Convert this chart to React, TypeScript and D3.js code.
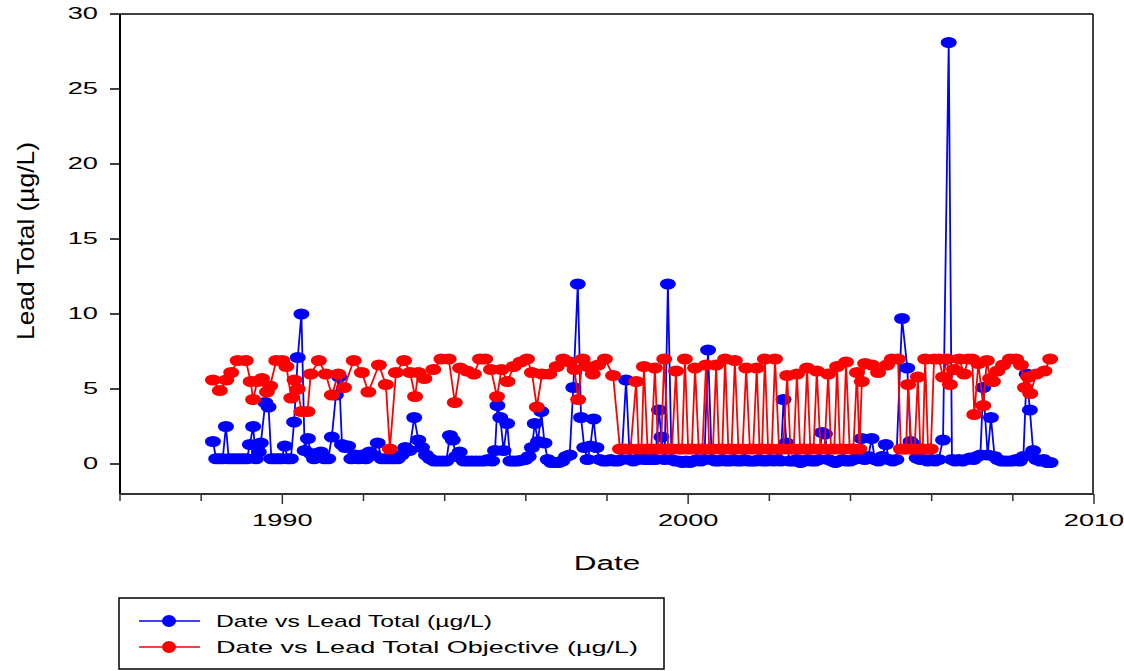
import React from "react";
import * as d3 from "d3";

// ---------- data ----------
const leadDates = [
  1988.29, 1988.37, 1988.45, 1988.53, 1988.61, 1988.68, 1988.77, 1988.86, 1988.95, 1989.04,
  1989.13, 1989.20, 1989.28, 1989.35, 1989.42, 1989.47, 1989.58, 1989.66, 1989.73, 1989.81,
  1989.90, 1989.98, 1990.06, 1990.13, 1990.21, 1990.29, 1990.38, 1990.47, 1990.55, 1990.63,
  1990.70, 1990.78, 1990.86, 1990.95, 1991.04, 1991.13, 1991.22, 1991.32, 1991.40, 1991.47,
  1991.55, 1991.62, 1991.70, 1991.79, 1991.88, 1991.97, 1992.06, 1992.15, 1992.24, 1992.35,
  1992.45, 1992.55, 1992.65, 1992.74, 1992.84, 1992.94, 1993.03, 1993.13, 1993.25, 1993.35,
  1993.44, 1993.54, 1993.64, 1993.74, 1993.84, 1993.94, 1994.04, 1994.13, 1994.20, 1994.28,
  1994.37, 1994.47, 1994.57, 1994.67, 1994.77, 1994.87, 1994.97, 1995.07, 1995.17, 1995.24,
  1995.30, 1995.37, 1995.45, 1995.54, 1995.62, 1995.71, 1995.80, 1995.89, 1995.98, 1996.07,
  1996.15, 1996.22, 1996.30, 1996.38, 1996.46, 1996.54, 1996.63, 1996.72, 1996.81, 1996.90,
  1996.99, 1997.08, 1997.17, 1997.28, 1997.36, 1997.44, 1997.52, 1997.59, 1997.67, 1997.74,
  1997.82, 1997.91, 1998.00, 1998.09, 1998.18, 1998.27, 1998.36, 1998.47, 1998.56, 1998.65,
  1998.74, 1998.83, 1998.92, 1999.01, 1999.10, 1999.19, 1999.28, 1999.34, 1999.42, 1999.50,
  1999.59, 1999.68, 1999.77, 1999.86, 1999.95, 2000.04, 2000.13, 2000.22, 2000.31, 2000.40,
  2000.49, 2000.58, 2000.67, 2000.76, 2000.85, 2000.94, 2001.03, 2001.12, 2001.21, 2001.30,
  2001.39, 2001.48, 2001.57, 2001.66, 2001.75, 2001.84, 2001.93, 2002.02, 2002.11, 2002.20,
  2002.28, 2002.35, 2002.42, 2002.50, 2002.59, 2002.68, 2002.77, 2002.86, 2002.95, 2003.04,
  2003.13, 2003.22, 2003.30, 2003.37, 2003.45, 2003.54, 2003.63, 2003.72, 2003.81, 2003.90,
  2003.99, 2004.08, 2004.17, 2004.27, 2004.35, 2004.44, 2004.52, 2004.60, 2004.69, 2004.78,
  2004.87, 2004.95, 2005.04, 2005.13, 2005.27, 2005.40, 2005.48, 2005.55, 2005.63, 2005.72,
  2005.81, 2005.90, 2005.99, 2006.08, 2006.17, 2006.28, 2006.42, 2006.50, 2006.58, 2006.67,
  2006.76, 2006.85, 2006.94, 2007.03, 2007.12, 2007.20, 2007.27, 2007.38, 2007.46, 2007.55,
  2007.63, 2007.72, 2007.81, 2007.90, 2007.99, 2008.08, 2008.17, 2008.26, 2008.34, 2008.42,
  2008.50, 2008.58, 2008.67, 2008.76, 2008.85, 2008.93,
];
const leadValues = [
  1.5, 0.35, 0.35, 0.35, 2.5, 0.35, 0.35, 0.35, 0.35, 0.35,
  0.35, 1.3, 2.5, 0.35, 0.8, 1.4, 4.1, 3.8, 0.35, 0.35,
  0.35, 0.35, 1.2, 0.35, 0.35, 2.8, 7.1, 10.0, 0.9, 1.7,
  0.7, 0.35, 0.7, 0.8, 0.35, 0.35, 1.8, 4.6, 5.8, 1.3,
  1.1, 1.2, 0.35, 0.6, 0.35, 0.6, 0.35, 0.8, 0.6, 1.4,
  0.35, 0.35, 0.35, 0.35, 0.35, 0.6, 1.1, 0.9, 3.1, 1.6,
  1.1, 0.6, 0.35, 0.2, 0.2, 0.2, 0.2, 1.9, 1.6, 0.5,
  0.8, 0.2, 0.2, 0.2, 0.2, 0.2, 0.2, 0.3, 0.2, 0.9,
  3.9, 3.1, 0.9, 2.7, 0.2, 0.2, 0.2, 0.25, 0.3, 0.5,
  1.1, 2.7, 1.5, 3.5, 1.4, 0.3, 0.1, 0.1, 0.1, 0.2,
  0.5, 0.6, 5.1, 12.0, 3.1, 1.1, 0.3, 1.2, 3.0, 1.1,
  0.3, 0.2, 0.2, 0.3, 0.2, 0.2, 0.3, 5.6, 0.3, 0.2,
  0.3, 0.4, 0.3, 0.3, 0.3, 0.3, 3.6, 1.8, 0.3, 12.0,
  0.3, 0.2, 0.2, 0.1, 0.2, 0.1, 0.2, 0.3, 0.2, 0.3,
  7.6, 0.3, 0.2, 0.2, 0.3, 0.2, 0.2, 0.3, 0.2, 0.2,
  0.3, 0.2, 0.2, 0.2, 0.3, 0.2, 0.2, 0.3, 0.2, 0.3,
  0.2, 4.3, 1.4, 0.2, 0.2, 0.3, 0.1, 0.2, 0.3, 0.2,
  0.2, 0.3, 2.1, 2.0, 0.3, 0.2, 0.1, 0.2, 0.3, 0.2,
  0.2, 0.3, 0.4, 1.7, 0.3, 0.5, 1.7, 0.3, 0.2, 0.5,
  1.3, 0.3, 0.2, 0.3, 9.7, 6.4, 1.5, 1.3, 0.4, 0.3,
  0.3, 0.2, 0.3, 0.2, 0.3, 1.6, 28.1, 0.3, 0.2, 0.3,
  0.2, 0.3, 0.4, 0.3, 0.5, 0.6, 5.1, 0.6, 3.1, 0.5,
  0.3, 0.2, 0.2, 0.2, 0.2, 0.3, 0.2, 0.5, 6.0, 3.6,
  0.9, 0.3, 0.2, 0.3, 0.1, 0.1,
];

const objectiveDates = [
  1988.29, 1988.46, 1988.62, 1988.74, 1988.90, 1989.10, 1989.22, 1989.28, 1989.38, 1989.50,
  1989.62, 1989.70, 1989.85, 1990.00, 1990.10, 1990.22, 1990.30, 1990.38, 1990.47, 1990.62,
  1990.70, 1990.90, 1991.07, 1991.22, 1991.38, 1991.52, 1991.76, 1991.96, 1992.12, 1992.38,
  1992.55, 1992.65, 1992.80, 1993.00, 1993.15, 1993.27, 1993.35, 1993.50, 1993.72, 1993.92,
  1994.10, 1994.25, 1994.38, 1994.55, 1994.72, 1994.87, 1995.00, 1995.14, 1995.29, 1995.40,
  1995.55, 1995.70, 1995.87, 1996.03, 1996.15, 1996.27, 1996.40, 1996.58, 1996.76, 1996.92,
  1997.08, 1997.20, 1997.29, 1997.40, 1997.53, 1997.65, 1997.78, 1997.95, 1998.15, 1998.32,
  1998.45, 1998.58, 1998.72, 1998.78, 1998.85, 1998.91, 1999.00, 1999.09, 1999.18, 1999.26,
  1999.33, 1999.41, 1999.51, 1999.60, 1999.70, 1999.77, 1999.85, 1999.92, 2000.00, 2000.09,
  2000.17, 2000.26, 2000.35, 2000.44, 2000.52, 2000.61, 2000.69, 2000.76, 2000.84, 2000.91,
  2000.99, 2001.07, 2001.15, 2001.24, 2001.34, 2001.43, 2001.52, 2001.60, 2001.69, 2001.76,
  2001.82, 2001.89, 2001.97, 2002.06, 2002.14, 2002.24, 2002.34, 2002.44, 2002.52, 2002.60,
  2002.68, 2002.76, 2002.85, 2002.93, 2003.01, 2003.09, 2003.17, 2003.26, 2003.36, 2003.45,
  2003.52, 2003.60, 2003.67, 2003.74, 2003.82, 2003.89, 2003.98, 2004.07, 2004.16, 2004.22,
  2004.28, 2004.36, 2004.53, 2004.68, 2004.90, 2005.02, 2005.17, 2005.24, 2005.31, 2005.37,
  2005.42, 2005.50, 2005.58, 2005.66, 2005.72, 2005.78, 2005.84, 2005.91, 2005.98, 2006.06,
  2006.18, 2006.28, 2006.38, 2006.45, 2006.55, 2006.68, 2006.80, 2006.90, 2007.00, 2007.05,
  2007.15, 2007.27, 2007.36, 2007.44, 2007.51, 2007.62, 2007.76, 2007.93, 2008.08, 2008.20,
  2008.30, 2008.38, 2008.43, 2008.58, 2008.78, 2008.92,
];
const objectiveValues = [
  5.6, 4.9, 5.6, 6.1, 6.9, 6.9, 5.5, 4.3, 5.5, 5.7,
  4.8, 5.2, 6.9, 6.9, 6.5, 4.4, 5.6, 5.0, 3.5, 3.5,
  6.0, 6.9, 6.0, 4.6, 6.0, 5.1, 6.9, 6.1, 4.8, 6.6,
  5.3, 1.0, 6.1, 6.9, 6.1, 4.5, 6.1, 5.7, 6.3, 7.0,
  7.0, 4.1, 6.4, 6.2, 6.0, 7.0, 7.0, 6.3, 4.5, 6.3,
  5.5, 6.5, 6.8, 7.0, 6.1, 3.8, 6.0, 6.0, 6.5, 7.0,
  6.8, 6.3, 4.3, 7.0, 6.5, 6.0, 6.6, 7.0, 5.9, 1.0,
  1.0, 1.0, 5.5, 1.0, 1.0, 6.5, 1.0, 1.0, 6.4, 1.0,
  1.0, 7.0, 1.0, 1.0, 6.2, 1.0, 1.0, 7.0, 1.0, 1.0,
  6.4, 1.0, 1.0, 6.6, 1.0, 1.0, 6.6, 1.0, 1.0, 7.0,
  1.0, 1.0, 6.9, 1.0, 1.0, 6.4, 1.0, 1.0, 6.4, 1.0,
  1.0, 7.0, 1.0, 1.0, 7.0, 1.0, 1.0, 5.9, 1.0, 1.0,
  6.0, 1.0, 1.0, 6.4, 1.0, 1.0, 6.2, 1.0, 1.0, 6.0,
  1.0, 1.0, 6.5, 1.0, 1.0, 6.8, 1.0, 1.0, 6.1, 1.0,
  5.5, 6.7, 6.6, 6.1, 6.6, 7.0, 7.0, 1.0, 1.0, 1.0,
  5.3, 1.0, 1.0, 5.8, 1.0, 1.0, 7.0, 1.0, 1.0, 7.0,
  7.0, 5.8, 7.0, 5.3, 6.3, 7.0, 6.0, 7.0, 7.0, 3.3,
  6.7, 3.9, 6.9, 5.7, 5.5, 6.2, 6.6, 7.0, 7.0, 6.6,
  5.1, 5.8, 4.7, 6.0, 6.2, 7.0,
];

const xTickValues = [1986, 1988, 1990, 1992, 1994, 1996, 1998, 2000, 2002, 2004, 2006, 2008, 2010];
const xTickLabels = [1990, 2000, 2010];
const yTickValues = [0, 5, 10, 15, 20, 25, 30];

const seriesNames = ["Date vs Lead Total (µg/L)", "Date vs Lead Total Objective (µg/L)"];
const seriesColors = ["#0000ff", "#ff0000"];

// ---------- layout ----------
const W = 1124;
const H = 671;
const LEFT = 120;
const RIGHT = 1094;
const TOP = 14;
const BOTTOM = 494;
const FONT = "'Liberation Sans', Arial, sans-serif";
const legendTextLengths = [276, 422];

export default function App() {
  const x = d3.scaleLinear().domain([1986, 2010]).range([LEFT, RIGHT]);
  const y = d3.scaleLinear().domain([-2, 30]).range([BOTTOM, TOP]);

  const lead = leadDates.map((d, i) => ({ d, v: leadValues[i] }));
  const obj = objectiveDates.map((d, i) => ({ d, v: objectiveValues[i] }));

  const line = d3
    .line<{ d: number; v: number }>()
    .x((p) => x(p.d))
    .y((p) => y(p.v));

  const series = [lead, obj];
  const axisColor = "#000";
  const tickLabelStretch = 1.7;
  const textStretch = 1.5;

  return (
    <svg
      width={W}
      height={H}
      style={{ position: "absolute", left: 0, top: 0, background: "#fff" }}
      fontFamily={FONT}
    >
      <rect x={0} y={0} width={W} height={H} fill="#fff" />

      {/* series */}
      {series.map((s, si) => (
        <g key={si}>
          <path d={line(s) || ""} fill="none" stroke={seriesColors[si]} strokeWidth={1.8} />
          {s.map((p, i) => (
            <ellipse key={i} cx={x(p.d)} cy={y(p.v)} rx={8} ry={5.5} fill={seriesColors[si]} />
          ))}
        </g>
      ))}

      {/* frame */}
      <line x1={LEFT} x2={RIGHT - 1} y1={TOP} y2={TOP} stroke={axisColor} strokeWidth={1.5} />
      <line x1={RIGHT - 1} x2={RIGHT - 1} y1={TOP} y2={BOTTOM} stroke={axisColor} strokeWidth={1.5} />
      <line x1={LEFT} x2={LEFT} y1={TOP} y2={BOTTOM} stroke={axisColor} strokeWidth={2} />
      <line x1={LEFT} x2={RIGHT} y1={BOTTOM} y2={BOTTOM} stroke="#333" strokeWidth={2} />

      {/* y axis ticks */}
      {yTickValues.map((t) => (
        <g key={t}>
          <line x1={LEFT - 10} x2={LEFT} y1={y(t)} y2={y(t)} stroke={axisColor} strokeWidth={1.5} />
          <text
            transform={`translate(${LEFT - 22},${y(t)}) scale(${tickLabelStretch},1)`}
            textAnchor="end"
            dominantBaseline="central"
            fontSize={16}
          >
            {t}
          </text>
        </g>
      ))}

      {/* x axis ticks */}
      {xTickValues.map((t) => (
        <line
          key={t}
          x1={x(t)}
          x2={x(t)}
          y1={BOTTOM}
          y2={BOTTOM + (xTickLabels.includes(t) ? 10 : 7)}
          stroke="#333"
          strokeWidth={1.5}
        />
      ))}
      {xTickLabels.map((t) => (
        <text
          key={t}
          transform={`translate(${x(t)},${BOTTOM + 27}) scale(${tickLabelStretch},1)`}
          textAnchor="middle"
          dominantBaseline="central"
          fontSize={16}
        >
          {t}
        </text>
      ))}

      {/* axis titles */}
      <text
        transform={`translate(${(LEFT + RIGHT) / 2},${563}) scale(${textStretch},1)`}
        textAnchor="middle"
        dominantBaseline="central"
        fontSize={21}
      >
        Date
      </text>
      <text
        transform={`translate(25,${241}) rotate(-90)`}
        textAnchor="middle"
        dominantBaseline="central"
        fontSize={24}
        textLength={198}
        lengthAdjust="spacingAndGlyphs"
      >
        Lead Total (µg/L)
      </text>

      {/* legend */}
      <rect x={119} y={598} width={545} height={71} fill="#fff" stroke="#000" strokeWidth={1.5} />
      {seriesNames.map((name, i) => {
        const ly = 621 + i * 26;
        return (
          <g key={name}>
            <line x1={139} x2={200} y1={ly} y2={ly} stroke={seriesColors[i]} strokeWidth={1.5} />
            <ellipse cx={169} cy={ly} rx={7} ry={6} fill={seriesColors[i]} />
            <text
              x={216}
              y={ly}
              dominantBaseline="central"
              fontSize={17}
              textLength={legendTextLengths[i]}
              lengthAdjust="spacingAndGlyphs"
            >
              {name}
            </text>
          </g>
        );
      })}
    </svg>
  );
}
